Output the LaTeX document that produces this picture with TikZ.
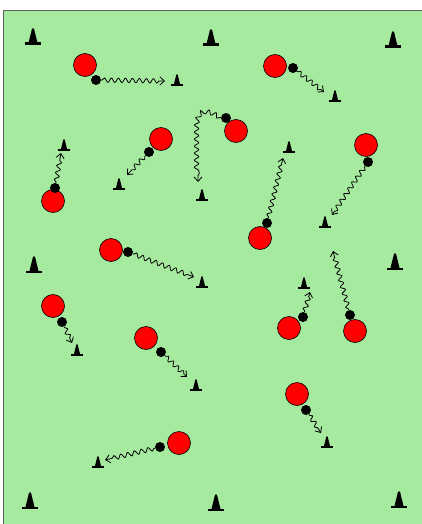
\documentclass[tikz,border=0pt]{standalone}
\usetikzlibrary{decorations.pathmorphing,arrows.meta}
\definecolor{field}{RGB}{166,234,160}
\definecolor{edge}{RGB}{90,100,90}
\begin{document}
\begin{tikzpicture}[x=1pt,y=-1pt,
  player/.style={circle,draw=black,fill=red,line width=0.6pt,minimum size=23pt,inner sep=0pt},
  ball/.style={circle,fill=black,minimum size=10pt,inner sep=0pt},
  run/.style={decorate,decoration={snake,amplitude=2.2pt,segment length=7pt,pre length=1pt,post length=4pt},line width=0.8pt,-{Straight Barb[length=4.5pt,width=8pt]}},
  bigcone/.pic={\fill[black] (-8,0) rectangle (8,-2.5);
     \fill[black] (-4.5,-2) -- (-1.2,-15.5) -- (0,-17) -- (1.2,-15.5) -- (4.5,-2) -- cycle;},
  smallcone/.pic={\begin{scope}[scale=0.7]\fill[black] (-8,0) rectangle (8,-2.5);
     \fill[black] (-4.5,-2) -- (-1.2,-15.5) -- (0,-17) -- (1.2,-15.5) -- (4.5,-2) -- cycle;\end{scope}}]
\useasboundingbox (0,0) rectangle (421,524);
\fill[white] (0,0) rectangle (421,524);
\fill[field] (3.5,10.5) rectangle (425,530);
\draw[edge,line width=0.8pt] (3.5,530) -- (3.5,10.5) -- (425,10.5);

% big cones
\pic (bc1) at (33,45) {bigcone};
\pic (bc2) at (211,46) {bigcone};
\pic (bc3) at (393,48) {bigcone};
\pic (bc4) at (34,273) {bigcone};
\pic (bc5) at (395,270) {bigcone};
\pic (bc6) at (30,509) {bigcone};
\pic (bc7) at (216,511) {bigcone};
\pic (bc8) at (399,508) {bigcone};

% small cones
\pic (sc1) at (177,86) {smallcone};
\pic (sc2) at (335,102) {smallcone};
\pic (sc3) at (64,151) {smallcone};
\pic (sc4) at (119,190) {smallcone};
\pic (sc5) at (202,201) {smallcone};
\pic (sc6) at (289,153) {smallcone};
\pic (sc7) at (325,228) {smallcone};
\pic (sc8) at (202,288) {smallcone};
\pic (sc9) at (77,356) {smallcone};
\pic (sc10) at (196,391) {smallcone};
\pic (sc11) at (304,289) {smallcone};
\pic (sc12) at (327,448) {smallcone};
\pic (sc13) at (98,468) {smallcone};

% players and balls
\node[player] (p1) at (85,65) {};   \node[ball] (b1) at (96,80) {};
\node[player] (p2) at (275,66) {};  \node[ball] (b2) at (293,68) {};
\node[player] (p3) at (236,131) {}; \node[ball] (b3) at (226,118) {};
\node[player] (p4) at (161,139) {}; \node[ball] (b4) at (149,152) {};
\node[player] (p5) at (53,201) {};  \node[ball] (b5) at (55,188) {};
\node[player] (p6) at (366,145) {}; \node[ball] (b6) at (368,162) {};
\node[player] (p7) at (260,238) {}; \node[ball] (b7) at (267,223) {};
\node[player] (p8) at (111,250) {}; \node[ball] (b8) at (128,252) {};
\node[player] (p9) at (53,306) {};  \node[ball] (b9) at (62,322) {};
\node[player] (p10) at (146,338) {};\node[ball] (b10) at (161,352) {};
\node[player] (p11) at (289,328) {};\node[ball] (b11) at (303,317) {};
\node[player] (p12) at (355,331) {};\node[ball] (b12) at (350,315) {};
\node[player] (p13) at (297,394) {};\node[ball] (b13) at (306,410) {};
\node[player] (p14) at (179,443) {};\node[ball] (b14) at (160,447) {};

% run targets
\coordinate (t1) at (165,81);
\coordinate (t2) at (324,92);
\coordinate (t3) at (198,182);
\coordinate (t4) at (127,175);
\coordinate (t5) at (61,153);
\coordinate (t6) at (332,215);
\coordinate (t7) at (283,158);
\coordinate (t8) at (194,277);
\coordinate (t9) at (72,343);
\coordinate (t10) at (187,377);
\coordinate (t11) at (310,292);
\coordinate (t12) at (333,251);
\coordinate (t13) at (321,433);
\coordinate (t14) at (105,460);

\draw[run] (b1) -- (t1);
\draw[run] (b2) -- (t2);
\draw[run] (b3.west) .. controls (205,108) and (198,112) .. (198,130) -- (t3);
\draw[run] (b4) -- (t4);
\draw[run] (b5) -- (t5);
\draw[run] (b6) -- (t6);
\draw[run] (b7) -- (t7);
\draw[run] (b8) -- (t8);
\draw[run] (b9) -- (t9);
\draw[run] (b10) -- (t10);
\draw[run] (b11) -- (t11);
\draw[run] (b12) -- (t12);
\draw[run] (b13) -- (t13);
\draw[run] (b14) -- (t14);
\end{tikzpicture}
\end{document}
